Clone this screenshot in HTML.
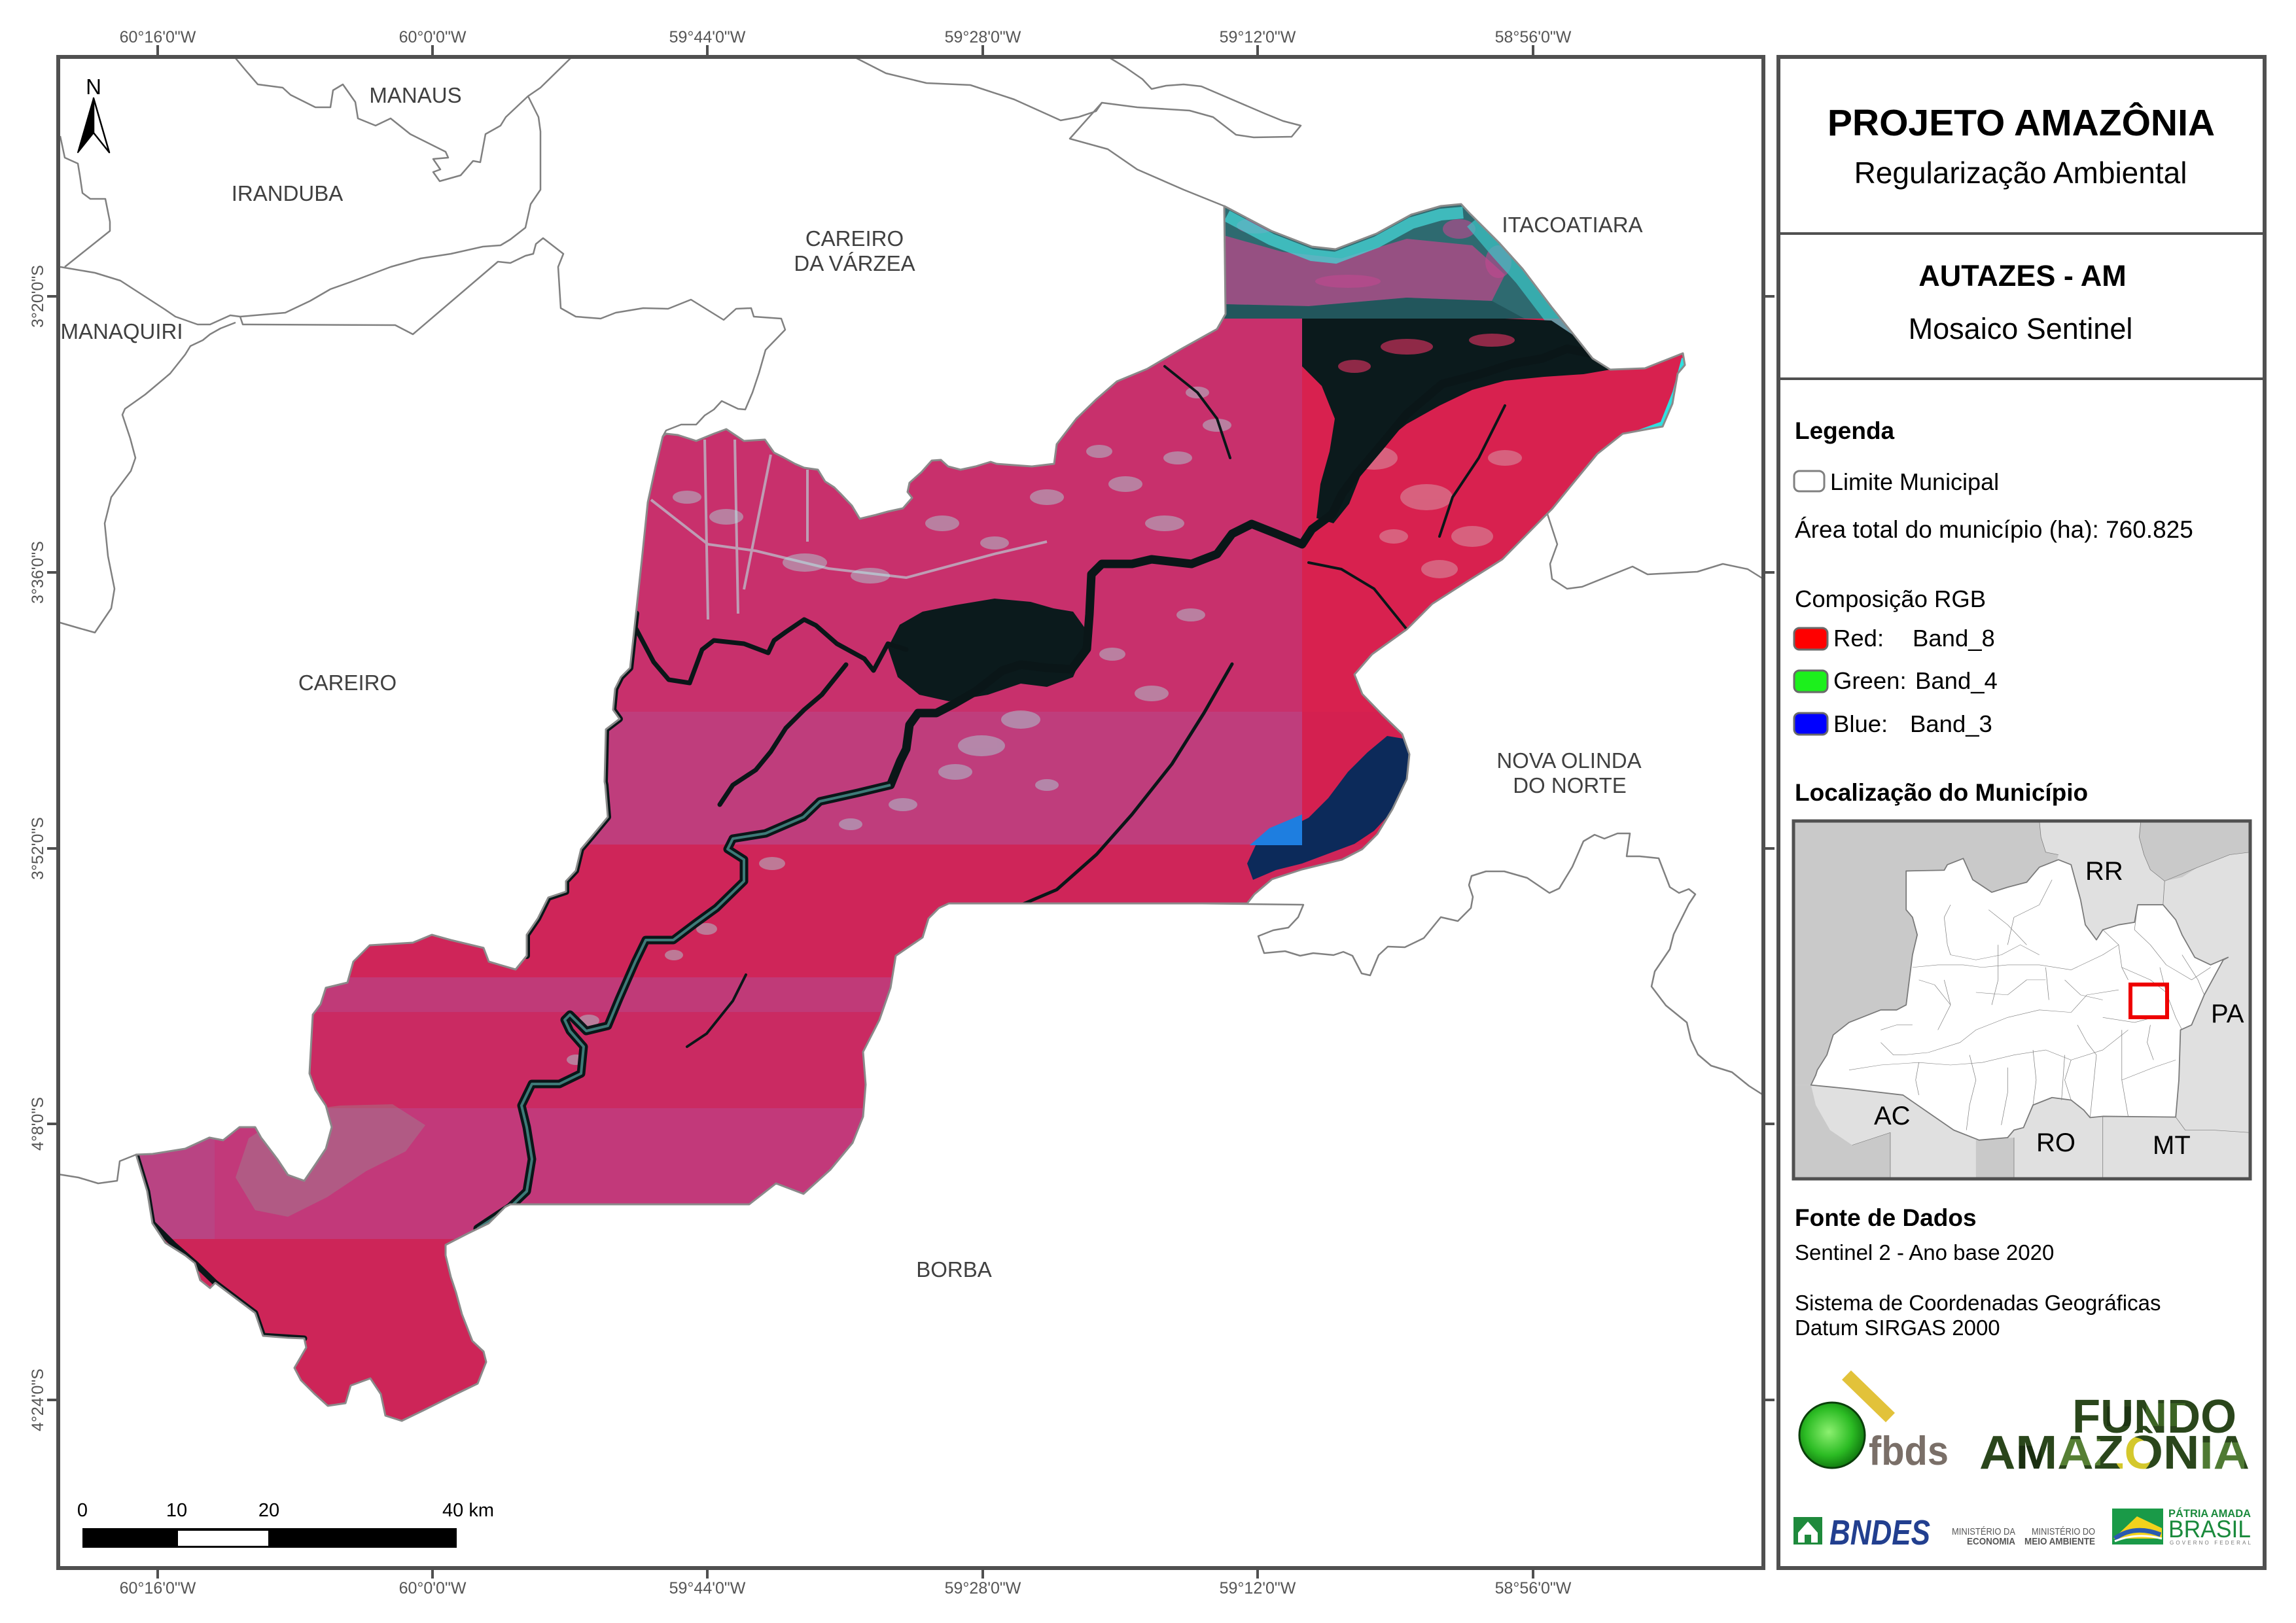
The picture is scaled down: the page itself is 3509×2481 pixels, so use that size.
<!DOCTYPE html>
<html>
<head>
<meta charset="utf-8">
<style>
html,body{margin:0;padding:0;background:#fff;}
svg{display:block;}
</style>
</head>
<body>
<svg xmlns="http://www.w3.org/2000/svg" width="3509" height="2481" viewBox="0 0 3509 2481" font-family="'Liberation Sans', Arial, sans-serif">
<defs>
<clipPath id="autz">
<polygon points="1871,315 1943,353 2005,377 2041,381 2104,357 2157,328 2202,315 2233,312 2246,326 2291,371 2327,411 2371,469 2407,514 2434,548 2461,565 2514,563 2572,540 2575,558 2564,571 2556,617 2541,652 2518,656 2480,663 2441,694 2403,740 2372,778 2357,793 2296,855 2242,889 2189,923 2150,962 2097,1000 2070,1031 2082,1061 2112,1092 2143,1122 2154,1153 2150,1191 2128,1237 2105,1275 2082,1298 2051,1314 1990,1329 1944,1344 1917,1367 1906,1381 1450,1381 1435,1388 1419,1404 1410,1433 1369,1461 1361,1510 1344,1559 1319,1608 1323,1658 1319,1707 1303,1747 1269,1788 1228,1825 1186,1809 1145,1841 780,1841 772,1845 747,1870 714,1886 681,1903 681,1919 689,1952 697,1976 706,2009 722,2050 739,2066 743,2082 730,2115 697,2131 647,2156 614,2172 589,2164 582,2131 566,2107 536,2118 528,2145 501,2149 480,2130 460,2110 450,2091 468,2060 465,2046 440,2045 402,2042 390,2007 329,1961 321,1969 306,1957 298,1931 283,1919 253,1900 233,1870 225,1821 208,1765 233,1764 283,1756 320,1739 341,1743 366,1723 390,1723 399,1739 424,1772 440,1796 465,1805 482,1780 498,1756 507,1723 498,1690 482,1666 473,1641 478,1551 490,1535 498,1510 531,1502 540,1470 565,1445 631,1441 660,1429 689,1437 739,1449 747,1470 788,1482 805,1461 805,1429 822,1404 838,1372 865,1363 865,1347 880,1331 888,1298 905,1278 929,1249 925,1200 924,1195 926,1115 947,1099 937,1085 940,1053 949,1035 963,1021 972,938 981,855 990,768 1002,713 1013,667 1018,663 1036,665 1064,674 1091,663 1110,656 1137,674 1169,672 1183,692 1197,699 1215,709 1229,715 1250,718 1261,736 1275,745 1284,754 1302,773 1314,793 1339,787 1357,782 1380,777 1394,761 1387,752 1390,738 1408,722 1424,704 1438,703 1449,713 1468,718 1491,713 1514,706 1523,709 1577,713 1611,709 1615,679 1645,640 1676,610 1707,583 1753,564 1806,533 1860,503 1873,480"/>
</clipPath>
<radialGradient id="gball" cx="0.45" cy="0.45" r="0.6">
<stop offset="0" stop-color="#8cf070"/>
<stop offset="0.6" stop-color="#2cbc24"/>
<stop offset="1" stop-color="#0b6e0b"/>
</radialGradient>
<pattern id="forest" patternUnits="userSpaceOnUse" x="3020" y="2130" width="430" height="130">
<rect x="0" y="0" width="430" height="130" fill="#2a461b"/>
<rect x="20" y="10" width="60" height="40" fill="#4a742c"/>
<rect x="120" y="70" width="70" height="40" fill="#567f34"/>
<rect x="260" y="15" width="60" height="35" fill="#3c6424"/>
<rect x="340" y="75" width="70" height="40" fill="#4f7a33"/>
<rect x="60" y="80" width="40" height="40" fill="#1a2e10"/>
<rect x="200" y="20" width="40" height="30" fill="#1c3412"/>
<circle cx="240" cy="95" r="28" fill="#d4c82c"/>
</pattern>
</defs>

<rect x="0" y="0" width="3509" height="2481" fill="#fff"/>

<!-- municipal boundaries -->
<g fill="none" stroke="#808080" stroke-width="2.5" stroke-linejoin="round">
<polyline points="360,89 375,107 394,129 432,134 444,145 482,164 505,164 509,138 524,129 543,156 547,181 574,192 597,181 627,205 681,232 685,241 662,243 673,259 662,263 672,277 704,268 723,246 734,248 742,205 765,192 773,179 807,147 826,134 872,89"/>
<polyline points="807,147 823,179 826,201 826,290 811,312 803,348 780,366 765,375 738,377 689,388 643,395 597,408 536,431 505,442 474,460 436,478 367,484"/>
<polyline points="92,208 99,241 119,250 122,268 126,295 138,304 161,304 168,339 168,353 99,408"/>
<polyline points="92,408 145,417 184,429 252,473 268,484 302,496 321,496 352,482 367,484 371,496 604,497 631,511 761,400 780,402 803,391 815,388 819,373 830,364 861,388 853,408 857,471 880,484 918,487 941,478 983,471 1021,472 1056,458 1106,489 1125,472 1148,471 1152,484 1194,487 1200,504 1170,535 1160,570 1150,600 1139,626 1128,625 1103,613 1091,626 1077,635 1064,649 1041,649 1018,658 1013,667"/>
<polyline points="360,493 337,502 321,511 310,520 291,529 283,542 260,571 222,603 191,625 187,634 199,670 207,700 200,720 185,740 170,760 160,800 165,850 175,900 170,930 145,967 120,960 89,951"/>
<polyline points="1309,89 1354,112 1416,127 1483,130 1550,152 1621,184 1648,179 1675,170 1684,157 1738,164 1818,169 1854,179 1889,206 1916,210 1974,209 1988,192 1961,185 1934,174 1836,132 1809,129 1782,131 1760,136 1746,121 1720,103 1697,89"/>
<polyline points="1684,157 1635,212 1693,228 1738,259 1809,290 1871,315"/>
<polyline points="2365,786 2380,832 2369,862 2372,885 2395,900 2418,897 2495,866 2518,878 2594,874 2633,862 2671,870 2695,885"/>
<polyline points="1814,1381 1992,1383 1984,1402 1969,1418 1946,1422 1923,1431 1932,1457 1964,1454 1987,1461 2007,1457 2038,1460 2053,1455 2067,1461 2081,1488 2094,1491 2107,1460 2121,1447 2147,1448 2176,1434 2202,1402 2228,1408 2248,1388 2251,1371 2245,1353 2249,1339 2271,1332 2299,1332 2334,1342 2368,1365 2383,1358 2403,1325 2420,1286 2437,1276 2452,1282 2472,1274 2491,1274 2486,1309 2506,1309 2535,1312 2552,1356 2566,1365 2581,1359 2591,1367 2581,1382 2558,1428 2552,1451 2529,1485 2524,1508 2546,1537 2578,1563 2584,1589 2595,1612 2615,1629 2647,1639 2673,1660 2695,1674"/>
<polyline points="89,1795 120,1800 150,1809 179,1805 183,1775 208,1765"/>
</g>

<!-- satellite mosaic -->
<g clip-path="url(#autz)">
<rect x="0" y="250" width="1990" height="838" fill="#c8306c"/>
<rect x="1871" y="250" width="700" height="237" fill="#2e6a70"/>
<rect x="1990" y="487" width="700" height="601" fill="#d8214f"/>
<rect x="0" y="1088" width="1990" height="203" fill="#bf3d7c"/>
<rect x="1990" y="1088" width="700" height="203" fill="#d42050"/>
<rect x="0" y="1291" width="3509" height="203" fill="#cf2559"/>
<rect x="0" y="1494" width="3509" height="53" fill="#c03a78"/>
<rect x="0" y="1547" width="3509" height="147" fill="#ca2a62"/>
<rect x="0" y="1694" width="3509" height="200" fill="#c2397a"/>
<rect x="0" y="1694" width="328" height="200" fill="#b94483"/>
<rect x="0" y="1894" width="3509" height="400" fill="#cd2558"/>

<!-- NE tile details -->
<polygon points="1871,360 1960,385 2050,395 2150,365 2250,375 2300,420 2280,460 2150,455 2000,468 1871,465" fill="#b94888" opacity="0.75"/>
<polygon points="1871,465 2000,468 2150,455 2280,460 2330,487 1871,487" fill="#1e4e54" opacity="0.7"/>
<g fill="#c24890" opacity="0.6">
<ellipse cx="1920" cy="345" rx="30" ry="12"/><ellipse cx="2230" cy="350" rx="25" ry="15"/>
<ellipse cx="2290" cy="400" rx="20" ry="25"/><ellipse cx="2060" cy="430" rx="50" ry="10"/>
</g>
<polyline points="1875,330 1943,366 2005,390 2041,394 2104,370 2157,341 2202,328 2236,325" fill="none" stroke="#45d6d6" stroke-width="18" opacity="0.75"/>
<polyline points="2252,338 2291,384 2327,424 2371,482 2407,524" fill="none" stroke="#3cc8c8" stroke-width="26" opacity="0.7"/>
<polyline points="2574,548 2560,600 2541,648 2480,670 2441,702 2403,748 2362,795" fill="none" stroke="#30e0e0" stroke-width="8"/>

<!-- light patches -->
<g fill="#a8e0e0" opacity="0.45">
<ellipse cx="1050" cy="760" rx="22" ry="10"/><ellipse cx="1110" cy="790" rx="26" ry="12"/>
<ellipse cx="1230" cy="860" rx="34" ry="14"/><ellipse cx="1330" cy="880" rx="30" ry="12"/>
<ellipse cx="1440" cy="800" rx="26" ry="12"/><ellipse cx="1520" cy="830" rx="22" ry="10"/>
<ellipse cx="1600" cy="760" rx="26" ry="12"/><ellipse cx="1680" cy="690" rx="20" ry="10"/>
<ellipse cx="1720" cy="740" rx="26" ry="12"/><ellipse cx="1800" cy="700" rx="22" ry="10"/>
<ellipse cx="1780" cy="800" rx="30" ry="12"/><ellipse cx="1860" cy="650" rx="22" ry="10"/>
<ellipse cx="1830" cy="600" rx="18" ry="9"/><ellipse cx="1500" cy="1140" rx="36" ry="16"/>
<ellipse cx="1460" cy="1180" rx="26" ry="12"/><ellipse cx="1560" cy="1100" rx="30" ry="14"/>
<ellipse cx="1380" cy="1230" rx="22" ry="10"/><ellipse cx="1300" cy="1260" rx="18" ry="9"/>
<ellipse cx="1180" cy="1320" rx="20" ry="10"/><ellipse cx="1080" cy="1420" rx="16" ry="9"/>
<ellipse cx="1520" cy="990" rx="22" ry="10"/><ellipse cx="1700" cy="1000" rx="20" ry="10"/>
<ellipse cx="1760" cy="1060" rx="26" ry="12"/><ellipse cx="1600" cy="1200" rx="18" ry="9"/>
<ellipse cx="1820" cy="940" rx="22" ry="10"/><ellipse cx="900" cy="1560" rx="16" ry="9"/>
<ellipse cx="880" cy="1620" rx="14" ry="8"/><ellipse cx="1030" cy="1460" rx="14" ry="8"/>
</g>
<g fill="#d8b0b8" opacity="0.45">
<ellipse cx="2100" cy="700" rx="36" ry="18"/><ellipse cx="2180" cy="760" rx="40" ry="20"/>
<ellipse cx="2250" cy="820" rx="32" ry="16"/><ellipse cx="2200" cy="870" rx="28" ry="14"/>
<ellipse cx="2130" cy="820" rx="22" ry="11"/><ellipse cx="2300" cy="700" rx="26" ry="12"/>
</g>
<polygon points="380,1740 440,1700 520,1690 600,1688 650,1720 620,1760 560,1790 500,1830 440,1860 390,1850 360,1800" fill="#8aa89c" opacity="0.3"/>
<g fill="none" stroke="#b8e4e4" stroke-width="4" opacity="0.6">
<polyline points="995,764 1082,832 1155,842 1266,869 1385,883 1523,846 1600,828"/>
<polyline points="1077,672 1082,947"/><polyline points="1123,672 1128,938"/>
<polyline points="1178,695 1137,901"/><polyline points="1234,718 1234,828"/>
</g>

<!-- dark water -->
<g fill="#0b1a1c">
<polygon points="1357,990 1375,955 1410,935 1460,925 1520,915 1575,920 1610,930 1640,935 1658,960 1655,1000 1640,1035 1600,1050 1560,1045 1510,1062 1450,1072 1405,1062 1372,1035"/>
<polygon points="1990,487 2100,487 2200,487 2300,487 2371,490 2407,514 2434,548 2461,565 2420,572 2360,576 2300,582 2250,596 2200,620 2150,648 2110,680 2082,720 2062,770 2038,800 2012,792 2018,740 2032,690 2040,640 2020,590 1990,560"/>
</g>
<g fill="#c8305a" opacity="0.7">
<ellipse cx="2150" cy="530" rx="40" ry="12"/><ellipse cx="2280" cy="520" rx="35" ry="10"/>
<ellipse cx="2070" cy="560" rx="25" ry="10"/>
</g>
<polygon points="2150,1130 2154,1160 2150,1200 2128,1240 2100,1270 2070,1290 2030,1305 1990,1320 1950,1330 1915,1345 1906,1320 1920,1290 1960,1270 2000,1250 2030,1220 2060,1180 2090,1150 2120,1125" fill="#0c2a5a"/>
<polygon points="1910,1292 1940,1266 1990,1245 1990,1292" fill="#1e7ee0"/>
<g fill="none" stroke="#0a1618" stroke-linejoin="round" stroke-linecap="round">
<polyline stroke-width="13" points="730,1878 780,1845 805,1821 813,1772 805,1723 797,1690 813,1657 855,1657 888,1641 892,1600 871,1576 863,1559 871,1551 896,1576 929,1568 946,1527 971,1470 987,1437 1029,1437 1062,1412 1095,1388 1137,1347 1137,1314 1112,1298 1120,1282 1170,1274 1228,1249 1253,1225 1311,1212 1361,1200 1376,1163 1385,1145 1390,1108 1403,1090 1431,1090 1458,1076 1491,1057 1532,1025 1560,1016 1600,1021 1638,1023 1661,992 1665,939 1668,878 1684,862 1730,862 1760,855 1821,862 1860,847 1883,816 1913,801 1951,816 1990,832 2005,809 2036,786 2051,755 2074,724 2112,679 2150,633 2204,587 2265,571 2311,556 2357,548 2395,533 2434,541"/>
<polyline stroke-width="7" points="972,961 999,1012 1022,1039 1054,1044 1073,993 1091,979 1137,984 1174,998 1183,979 1201,966 1229,947 1247,956 1279,984 1321,1007 1335,1025 1357,984 1385,993"/>
<polyline stroke-width="7" points="1293,1016 1256,1062 1229,1085 1201,1113 1178,1149 1155,1177 1120,1200 1100,1230"/>
<polyline stroke-width="5" points="1883,1015 1840,1090 1791,1168 1730,1245 1676,1306 1615,1360 1561,1383"/>
<polyline stroke-width="10" points="972,938 963,1021 949,1035 940,1053 937,1085 947,1099 926,1115 924,1195 925,1200 929,1249 905,1278 888,1298 880,1331 865,1347 865,1363 838,1372 822,1404 805,1429 805,1461"/>
<polyline stroke-width="9" points="208,1765 225,1821 233,1870 266,1903 298,1931 329,1961 390,2007 402,2042 465,2046"/>
<polyline stroke-width="4" points="2150,962 2100,900 2050,870 2000,860"/>
<polyline stroke-width="4" points="1140,1490 1120,1530 1080,1580 1050,1600"/>
<polyline stroke-width="4" points="1780,560 1830,600 1860,640 1880,700"/>
<polyline stroke-width="4" points="2300,620 2260,700 2220,760 2200,820"/>
</g>
<polyline points="730,1878 780,1845 805,1821 813,1772 805,1723 797,1690 813,1657 855,1657 888,1641 892,1600 871,1576 863,1559 871,1551 896,1576 929,1568 946,1527 971,1470 987,1437 1029,1437 1062,1412 1095,1388 1137,1347 1137,1314 1112,1298 1120,1282 1170,1274 1228,1249 1253,1225 1311,1212 1361,1200" fill="none" stroke="#3e7a78" stroke-width="4" stroke-linejoin="round"/>
</g>
<polygon points="1871,315 1943,353 2005,377 2041,381 2104,357 2157,328 2202,315 2233,312 2246,326 2291,371 2327,411 2371,469 2407,514 2434,548 2461,565 2514,563 2572,540 2575,558 2564,571 2556,617 2541,652 2518,656 2480,663 2441,694 2403,740 2372,778 2357,793 2296,855 2242,889 2189,923 2150,962 2097,1000 2070,1031 2082,1061 2112,1092 2143,1122 2154,1153 2150,1191 2128,1237 2105,1275 2082,1298 2051,1314 1990,1329 1944,1344 1917,1367 1906,1381 1450,1381 1435,1388 1419,1404 1410,1433 1369,1461 1361,1510 1344,1559 1319,1608 1323,1658 1319,1707 1303,1747 1269,1788 1228,1825 1186,1809 1145,1841 780,1841 772,1845 747,1870 714,1886 681,1903 681,1919 689,1952 697,1976 706,2009 722,2050 739,2066 743,2082 730,2115 697,2131 647,2156 614,2172 589,2164 582,2131 566,2107 536,2118 528,2145 501,2149 480,2130 460,2110 450,2091 468,2060 465,2046 440,2045 402,2042 390,2007 329,1961 321,1969 306,1957 298,1931 283,1919 253,1900 233,1870 225,1821 208,1765 233,1764 283,1756 320,1739 341,1743 366,1723 390,1723 399,1739 424,1772 440,1796 465,1805 482,1780 498,1756 507,1723 498,1690 482,1666 473,1641 478,1551 490,1535 498,1510 531,1502 540,1470 565,1445 631,1441 660,1429 689,1437 739,1449 747,1470 788,1482 805,1461 805,1429 822,1404 838,1372 865,1363 865,1347 880,1331 888,1298 905,1278 929,1249 925,1200 924,1195 926,1115 947,1099 937,1085 940,1053 949,1035 963,1021 972,938 981,855 990,768 1002,713 1013,667 1018,663 1036,665 1064,674 1091,663 1110,656 1137,674 1169,672 1183,692 1197,699 1215,709 1229,715 1250,718 1261,736 1275,745 1284,754 1302,773 1314,793 1339,787 1357,782 1380,777 1394,761 1387,752 1390,738 1408,722 1424,704 1438,703 1449,713 1468,718 1491,713 1514,706 1523,709 1577,713 1611,709 1615,679 1645,640 1676,610 1707,583 1753,564 1806,533 1860,503 1873,480" fill="none" stroke="#8a8a8a" stroke-width="3" stroke-linejoin="round"/>

<!-- place names -->
<g fill="#404040" font-size="33" text-anchor="middle">
<text x="635" y="157">MANAUS</text>
<text x="439" y="307">IRANDUBA</text>
<text x="186" y="518">MANAQUIRI</text>
<text x="1306" y="376">CAREIRO</text>
<text x="1306" y="414">DA VÁRZEA</text>
<text x="2403" y="355">ITACOATIARA</text>
<text x="531" y="1055">CAREIRO</text>
<text x="2398" y="1174">NOVA OLINDA</text>
<text x="2399" y="1212">DO NORTE</text>
<text x="1458" y="1952">BORBA</text>
</g>

<!-- north arrow -->
<text x="143" y="144" font-size="33" text-anchor="middle" fill="#000">N</text>
<polygon points="143,150 119,233 143,203" fill="#000" stroke="#000" stroke-width="2" stroke-linejoin="round"/>
<polygon points="143,150 167,233 143,203" fill="#fff" stroke="#000" stroke-width="2.5" stroke-linejoin="round"/>

<!-- scale bar -->
<rect x="126" y="2336" width="572" height="30" fill="#000"/>
<rect x="272" y="2340" width="138" height="23" fill="#fff"/>
<g font-size="29" fill="#000" text-anchor="middle">
<text x="126" y="2318">0</text>
<text x="270" y="2318">10</text>
<text x="411" y="2318">20</text>
</g>
<text x="676" y="2318" font-size="29" fill="#000">40 km</text>

<!-- frames -->
<rect x="89" y="87" width="2606" height="2310" fill="none" stroke="#505050" stroke-width="6"/>
<rect x="2718" y="87" width="743" height="2310" fill="none" stroke="#505050" stroke-width="6"/>
<line x1="2718" y1="357" x2="3461" y2="357" stroke="#505050" stroke-width="4"/>
<line x1="2718" y1="579" x2="3461" y2="579" stroke="#505050" stroke-width="4"/>

<!-- ticks -->
<g stroke="#505050" stroke-width="4">
<line x1="241" y1="69" x2="241" y2="87"/><line x1="661" y1="69" x2="661" y2="87"/><line x1="1081" y1="69" x2="1081" y2="87"/>
<line x1="1502" y1="69" x2="1502" y2="87"/><line x1="1922" y1="69" x2="1922" y2="87"/><line x1="2343" y1="69" x2="2343" y2="87"/>
<line x1="241" y1="2397" x2="241" y2="2413"/><line x1="661" y1="2397" x2="661" y2="2413"/><line x1="1081" y1="2397" x2="1081" y2="2413"/>
<line x1="1502" y1="2397" x2="1502" y2="2413"/><line x1="1922" y1="2397" x2="1922" y2="2413"/><line x1="2343" y1="2397" x2="2343" y2="2413"/>
<line x1="72" y1="453" x2="89" y2="453"/><line x1="72" y1="875" x2="89" y2="875"/><line x1="72" y1="1297" x2="89" y2="1297"/>
<line x1="72" y1="1718" x2="89" y2="1718"/><line x1="72" y1="2140" x2="89" y2="2140"/>
<line x1="2695" y1="453" x2="2712" y2="453"/><line x1="2695" y1="875" x2="2712" y2="875"/><line x1="2695" y1="1297" x2="2712" y2="1297"/>
<line x1="2695" y1="1718" x2="2712" y2="1718"/><line x1="2695" y1="2140" x2="2712" y2="2140"/>
</g>
<g fill="#555" font-size="25" text-anchor="middle">
<text x="241" y="65">60°16'0&quot;W</text><text x="661" y="65">60°0'0&quot;W</text><text x="1081" y="65">59°44'0&quot;W</text>
<text x="1502" y="65">59°28'0&quot;W</text><text x="1922" y="65">59°12'0&quot;W</text><text x="2343" y="65">58°56'0&quot;W</text>
<text x="241" y="2436">60°16'0&quot;W</text><text x="661" y="2436">60°0'0&quot;W</text><text x="1081" y="2436">59°44'0&quot;W</text>
<text x="1502" y="2436">59°28'0&quot;W</text><text x="1922" y="2436">59°12'0&quot;W</text><text x="2343" y="2436">58°56'0&quot;W</text>
<text transform="translate(66,453) rotate(-90)">3°20'0&quot;S</text>
<text transform="translate(66,875) rotate(-90)">3°36'0&quot;S</text>
<text transform="translate(66,1297) rotate(-90)">3°52'0&quot;S</text>
<text transform="translate(66,1718) rotate(-90)">4°8'0&quot;S</text>
<text transform="translate(66,2140) rotate(-90)">4°24'0&quot;S</text>
</g>

<!-- panel header -->
<g fill="#000" text-anchor="middle">
<text x="3089" y="207" font-size="57" font-weight="bold">PROJETO AMAZÔNIA</text>
<text x="3088" y="280" font-size="46">Regularização Ambiental</text>
<text x="3091" y="437" font-size="45" font-weight="bold">AUTAZES - AM</text>
<text x="3088" y="518" font-size="45">Mosaico Sentinel</text>
</g>

<!-- legend -->
<g fill="#000">
<text x="2743" y="671" font-size="37" font-weight="bold">Legenda</text>
<rect x="2742" y="720" width="46" height="31" rx="8" fill="#fff" stroke="#808080" stroke-width="3"/>
<text x="2797" y="749" font-size="36">Limite Municipal</text>
<text x="2743" y="822" font-size="37">Área total do município (ha): 760.825</text>
<text x="2743" y="928" font-size="36.5">Composição RGB</text>
<rect x="2742" y="960" width="51" height="33" rx="8" fill="#ff0000" stroke="#6a6a6a" stroke-width="3"/>
<text x="2802" y="988" font-size="36.5">Red:</text><text x="2923" y="988" font-size="36.5">Band_8</text>
<rect x="2742" y="1025" width="51" height="33" rx="8" fill="#1cf01c" stroke="#6a6a6a" stroke-width="3"/>
<text x="2802" y="1053" font-size="36.5">Green:</text><text x="2927" y="1053" font-size="36.5">Band_4</text>
<rect x="2742" y="1090" width="51" height="33" rx="8" fill="#0000ff" stroke="#6a6a6a" stroke-width="3"/>
<text x="2802" y="1119" font-size="36.5">Blue:</text><text x="2919" y="1119" font-size="36.5">Band_3</text>
<text x="2743" y="1224" font-size="37" font-weight="bold">Localização do Município</text>
</g>

<!-- inset map -->
<g transform="matrix(0.4847,0,0,0.3827,2729,1230)">
<rect x="25" y="65" width="1440" height="1430" fill="#e0e0e0"/>
<g fill="#c9c9c9">
<polygon points="25,65 800,65 805,130 820,190 860,200 855,225 800,250 760,310 700,330 650,350 590,300 560,215 510,240 500,262 380,265 380,420 400,450 415,520 400,600 390,700 380,800 350,820 300,820 200,870 150,920 130,1000 100,1060 80,1120 25,1120"/>
<polygon points="1120,65 1465,65 1465,190 1400,200 1300,250 1250,290 1195,305 1150,260 1130,200 1115,130"/>
<polygon points="25,1120 80,1120 95,1200 140,1300 210,1360 330,1310 330,1495 25,1495"/>
<polygon points="600,1340 720,1330 720,1495 600,1495"/>
</g>
<polygon points="380,265 500,262 510,240 560,215 590,300 650,350 700,330 760,310 800,250 860,220 900,240 930,380 945,480 980,540 1000,500 1050,480 1100,470 1110,400 1190,400 1230,460 1250,520 1290,610 1340,640 1395,610 1380,620 1320,760 1280,880 1245,900 1240,1100 1230,1248 1000,1245 960,1250 940,1220 900,1180 840,1170 780,1200 750,1290 720,1300 700,1330 610,1340 530,1300 450,1230 370,1160 200,1135 80,1120 95,1080 100,1060 130,1000 150,920 200,870 300,820 350,820 380,800 390,700 400,600 415,520 400,450 380,420" fill="#fff" stroke="#7a7a7a" stroke-width="1.8" vector-effect="non-scaling-stroke" stroke-linejoin="round"/>
<g fill="none" stroke="#7e7e7e" stroke-width="1.5" vector-effect="non-scaling-stroke" stroke-linejoin="round">
<polyline points="400,650 480,640 560,640 620,650 700,640 800,640 900,660 1000,600 1050,560"/>
<polyline points="370,1000 450,990 550,950 600,900 700,850 800,820 900,830 950,760 1050,740"/>
<polyline points="200,1060 300,1040 420,1030 520,1040 620,1030 720,1000 820,980 900,1020 1000,980 1080,900"/>
<polyline points="420,1030 410,1100 420,1160"/>
<polyline points="580,1000 600,1100 580,1200 570,1300"/>
<polyline points="780,980 790,1100 780,1200"/>
<polyline points="880,1000 870,1180"/>
<polyline points="980,1000 960,1250"/>
<polyline points="1060,900 1060,1100 1080,1245"/>
<polyline points="1060,1100 1160,1050 1230,1020"/>
<polyline points="510,560 520,600 600,620 680,600 740,560 800,600"/>
<polyline points="670,560 670,700 650,800"/>
<polyline points="820,650 830,780"/>
<polyline points="500,700 520,800 480,900"/>
<polyline points="300,900 350,880 400,880"/>
<polyline points="1000,500 1050,560 1060,650 1080,700"/>
<polyline points="1110,400 1100,500 1150,560 1200,640 1280,700 1340,650"/>
<polyline points="1180,650 1200,750 1230,850 1250,900"/>
<polyline points="1060,650 1150,700 1200,750"/>
<polyline points="920,880 950,950 980,1000"/>
<polyline points="700,560 720,450 800,400 840,300"/>
<polyline points="510,560 500,450 520,400"/>
<polyline points="1000,850 1100,870 1160,850"/>
<polyline points="1150,880 1140,950 1160,1020"/>
<polyline points="640,420 700,480 760,560"/>
<polyline points="420,700 470,720 520,800"/>
<polyline points="600,750 700,760 760,700 820,700"/>
<polyline points="880,700 930,760 1000,780"/>
<polyline points="1250,600 1300,700 1320,760"/>
<polyline points="300,950 340,1000 370,1000"/>
<polyline points="700,1050 700,1150 680,1280"/>
<polyline points="900,1020 880,1100 900,1180"/>
</g>
<g fill="none" stroke="#7a7a7a" stroke-width="1.6" vector-effect="non-scaling-stroke">
<polyline points="800,65 805,130 820,190 860,200"/>
<polyline points="1120,65 1115,130 1130,200 1150,260 1195,305 1190,400"/>
<polyline points="1195,305 1300,250 1400,200 1465,190"/>
<polyline points="1000,1245 1000,1495"/>
<polyline points="720,1330 720,1495"/>
<polyline points="1230,1248 1260,1300 1350,1300 1465,1310"/>
<polyline points="210,1360 330,1310 330,1495"/>
</g>
</g>
<rect x="2741" y="1255" width="698" height="547" fill="none" stroke="#505050" stroke-width="5"/>
<rect x="3256" y="1505" width="56" height="50" fill="none" stroke="#ee0000" stroke-width="6"/>
<g fill="#000" font-size="40">
<text x="3187" y="1345">RR</text>
<text x="3379" y="1563">PA</text>
<text x="2864" y="1719">AC</text>
<text x="3112" y="1760">RO</text>
<text x="3290" y="1764">MT</text>
</g>

<!-- data sources -->
<g fill="#000">
<text x="2743" y="1874" font-size="37" font-weight="bold">Fonte de Dados</text>
<text x="2743" y="1926" font-size="33">Sentinel 2 - Ano base 2020</text>
<text x="2743" y="2003" font-size="33">Sistema de Coordenadas Geográficas</text>
<text x="2743" y="2041" font-size="33">Datum SIRGAS 2000</text>
</g>

<!-- fbds logo -->
<line x1="2822" y1="2102" x2="2889" y2="2167" stroke="#e2c23a" stroke-width="20"/>
<circle cx="2800" cy="2194" r="50" fill="url(#gball)" stroke="#0a3f0a" stroke-width="3"/>
<text x="2856" y="2239" font-size="62" font-weight="bold" fill="#7a6f68" textLength="122" lengthAdjust="spacingAndGlyphs">fbds</text>

<!-- Fundo Amazonia -->
<text x="3167" y="2190" font-size="72" font-weight="bold" fill="url(#forest)" textLength="251" lengthAdjust="spacingAndGlyphs">FUNDO</text>
<text x="3025" y="2245" font-size="72" font-weight="bold" fill="url(#forest)" textLength="413" lengthAdjust="spacingAndGlyphs">AMAZÔNIA</text>

<!-- BNDES -->
<rect x="2741" y="2319" width="44" height="42" fill="#1e8a3c"/>
<polygon points="2748,2343 2763,2326 2778,2343 2778,2358 2768,2358 2768,2346 2758,2346 2758,2358 2748,2358" fill="#fff"/>
<text x="2796" y="2361" font-size="54" font-weight="bold" font-style="italic" fill="#223f8f" textLength="154" lengthAdjust="spacingAndGlyphs">BNDES</text>
<g fill="#555" text-anchor="end">
<text x="3080" y="2346" font-size="15" textLength="97" lengthAdjust="spacingAndGlyphs">MINISTÉRIO DA</text>
<text x="3080" y="2361" font-size="15" font-weight="bold" textLength="74" lengthAdjust="spacingAndGlyphs">ECONOMIA</text>
<text x="3202" y="2346" font-size="15" textLength="97" lengthAdjust="spacingAndGlyphs">MINISTÉRIO DO</text>
<text x="3202" y="2361" font-size="15" font-weight="bold" textLength="108" lengthAdjust="spacingAndGlyphs">MEIO AMBIENTE</text>
</g>
<!-- Patria Amada Brasil -->
<rect x="3228" y="2306" width="78" height="55" fill="#1a9a48"/>
<polygon points="3230,2352 3266,2318 3304,2336 3304,2352" fill="#f2d21c"/>
<path d="M3232,2352 Q3262,2330 3302,2346" fill="none" stroke="#2a5ab0" stroke-width="7"/>
<path d="M3232,2356 Q3266,2342 3304,2352" fill="none" stroke="#fff" stroke-width="3"/>
<text x="3314" y="2319" font-size="17" font-weight="bold" fill="#1a8a3c" textLength="126" lengthAdjust="spacingAndGlyphs">PÁTRIA AMADA</text>
<text x="3314" y="2350" font-size="37" fill="#1a8a3c" textLength="126" lengthAdjust="spacingAndGlyphs">BRASIL</text>
<text x="3316" y="2361" font-size="8" fill="#777" textLength="124" lengthAdjust="spacing">GOVERNO FEDERAL</text>
</svg>
</body>
</html>
